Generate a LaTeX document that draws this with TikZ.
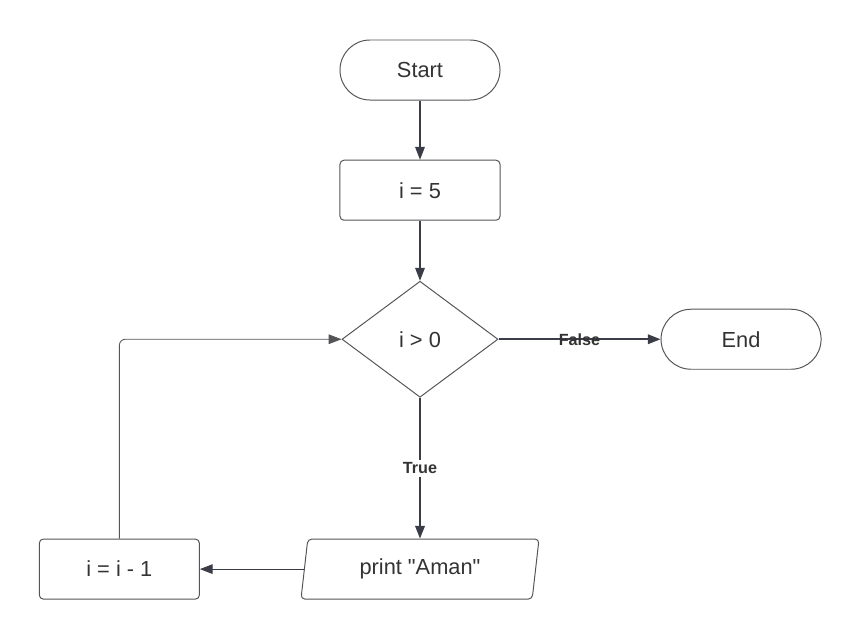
\documentclass[tikz,border=0pt]{standalone}
\usepackage{fontspec}
\setmainfont{Liberation Sans}
\newfontfamily\plainfont{Liberation Sans}
\usetikzlibrary{arrows.meta, positioning, shapes.geometric}
\definecolor{linecolor}{RGB}{58,61,71}
\definecolor{boxcolor}{RGB}{85,85,88}
\definecolor{textcolor}{RGB}{51,51,51}

\begin{document}
\begin{tikzpicture}[x=0.025cm, y=-0.025cm, every node/.style={text=textcolor, font=\plainfont\fontsize{15.5}{18}\selectfont},
    terminal/.style={rectangle, rounded corners=0.75cm, draw=boxcolor, line width=0.7pt, minimum width=4cm, minimum height=1.5cm},
    process/.style={rectangle, rounded corners=0.1cm, draw=boxcolor, line width=0.7pt, minimum width=4cm, minimum height=1.5cm},
    decision/.style={diamond, draw=boxcolor, line width=0.7pt, minimum width=3.9cm, minimum height=2.9cm, aspect=1.34, inner sep=0pt},
    io/.style={trapezium, trapezium left angle=77, trapezium right angle=103, trapezium stretches body, rounded corners=0.1cm, draw=boxcolor, line width=0.7pt, minimum width=5.95cm, minimum height=1.5cm},
    flow/.style={->, draw=linecolor, line width=0.8pt}, strongflow/.style={flow, line width=1.4pt},
    tag/.style={font=\plainfont\bfseries\fontsize{11.5}{14}\selectfont}, >={Triangle[length=3.2mm, width=2.4mm]}]

    \useasboundingbox (0,0) rectangle (860,640);

    \node[terminal] (start) at (420, 70) {Start};
    \node[process] (init) [below=1.48cm of start] {i = 5};
    \node[decision] (cond) [below=1.5cm of init] {i > 0};
    \node[terminal] (end) [right=4.05cm of cond] {End};
    \node[io] (print) [below=3.52cm of cond] {print "Aman"};
    \node[process] (decr) [left=2.6cm of print] {i = i - 1};

    \draw[flow] (start) to (init);
    \draw[flow] (init) to (cond);
    \draw[strongflow] (cond) to node[tag] {False} (end);
    \draw[strongflow] (cond) to node[tag, fill=white, inner sep=2pt] {True} (print);
    \draw[flow] (print.west) to (decr);
    \draw[flow, draw=boxcolor, line width=0.6pt, rounded corners=0.15cm] (decr.north) |- (cond.west);

\end{tikzpicture}
\end{document}
